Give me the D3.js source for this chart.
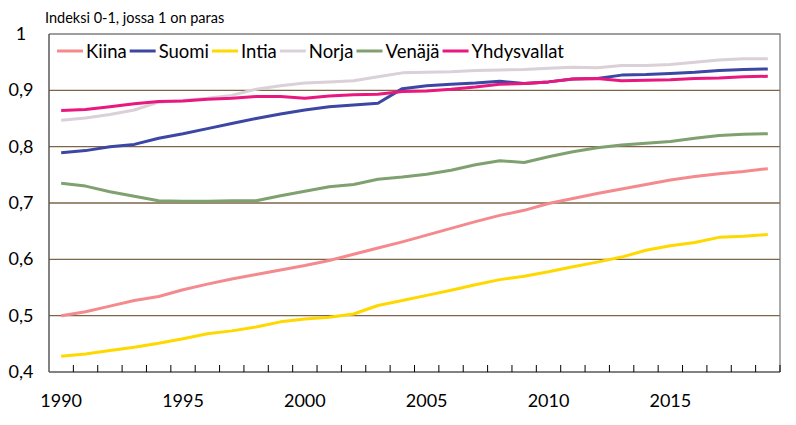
<!DOCTYPE html>
<html><head><meta charset="utf-8">
<script src="https://cdn.jsdelivr.net/npm/d3@7"></script>
<style>body{margin:0;background:#fff}svg{display:block}text{font-family:Lato,"Open Sans",sans-serif;fill:#000}</style>
</head><body><svg id="c" width="796" height="425"></svg>
<script>
const years = d3.range(1990, 2020);
const seriesNames = ["Kiina","Suomi","Intia","Norja","Venäjä","Yhdysvallat"];
const seriesColors = ["#F48A8E","#3B47A3","#FFD800","#DAD0D8","#7FA06F","#E9187E"];
const kiina = [0.500,0.507,0.517,0.527,0.534,0.546,0.556,0.565,0.573,0.581,0.589,0.598,0.609,0.620,0.631,0.643,0.655,0.667,0.678,0.687,0.699,0.708,0.717,0.725,0.733,0.741,0.747,0.752,0.756,0.761];
const suomi = [0.789,0.793,0.800,0.804,0.815,0.823,0.832,0.841,0.850,0.858,0.865,0.871,0.874,0.877,0.903,0.908,0.911,0.913,0.916,0.912,0.915,0.920,0.921,0.927,0.928,0.930,0.932,0.935,0.937,0.938];
const intia = [0.428,0.432,0.438,0.444,0.451,0.459,0.468,0.473,0.480,0.489,0.494,0.497,0.503,0.518,0.527,0.536,0.545,0.555,0.564,0.570,0.578,0.587,0.595,0.604,0.616,0.624,0.630,0.639,0.641,0.644];
const norja = [0.847,0.851,0.857,0.865,0.879,0.882,0.886,0.891,0.902,0.908,0.913,0.915,0.917,0.924,0.931,0.932,0.933,0.935,0.936,0.937,0.939,0.941,0.940,0.944,0.944,0.946,0.950,0.954,0.956,0.956];
const venaja = [0.735,0.730,0.720,0.712,0.704,0.703,0.703,0.704,0.704,0.713,0.721,0.729,0.733,0.742,0.746,0.751,0.758,0.768,0.775,0.772,0.782,0.791,0.798,0.803,0.806,0.809,0.815,0.820,0.822,0.823];
const yhdysvallat = [0.864,0.866,0.871,0.876,0.880,0.881,0.884,0.886,0.889,0.889,0.886,0.890,0.892,0.893,0.898,0.899,0.902,0.906,0.911,0.912,0.915,0.920,0.921,0.917,0.918,0.919,0.921,0.922,0.924,0.925];
const yTicks = [0.4,0.5,0.6,0.7,0.8,0.9,1];
const xLabelYears = [1990,1995,2000,2005,2010,2015];
const titleText = "Indeksi 0-1, jossa 1 on paras";

const seriesValues = [kiina,suomi,intia,norja,venaja,yhdysvallat];
const svg = d3.select("#c");
const L=49, R=780, T=34, B=372;
const x = d3.scaleBand().domain(years).range([L,R]);
const y = d3.scaleLinear().domain([0.4,1]).range([B,T]);
const cx = yr => x(yr)+x.bandwidth()/2;

// gridlines
svg.append("g").selectAll("line").data(yTicks.filter(v=>v>0.4&&v<1)).join("line")
  .attr("x1",L).attr("x2",R).attr("y1",d=>y(d)).attr("y2",d=>y(d))
  .attr("stroke","#7D6647").attr("stroke-width",1.3);

// frame top & right
svg.append("path").attr("d",`M${L},${T}H${R}V${B}`).attr("fill","none").attr("stroke","#7f7f7f").attr("stroke-width",1.3);

// axes
svg.append("line").attr("x1",L).attr("x2",R).attr("y1",B).attr("y2",B).attr("stroke","#595959").attr("stroke-width",1.5);
svg.append("line").attr("x1",L).attr("x2",L).attr("y1",T).attr("y2",B).attr("stroke","#595959").attr("stroke-width",1.5);
// boundary ticks (inward)
svg.append("g").selectAll("line").data(years.slice(1)).join("line")
  .attr("x1",d=>x(d)).attr("x2",d=>x(d)).attr("y1",B).attr("y2",B-7)
  .attr("stroke","#000").attr("stroke-width",1);
svg.append("line").attr("x1",R).attr("x2",R).attr("y1",B).attr("y2",B-7).attr("stroke","#000");

// x labels
svg.append("g").selectAll("text").data(xLabelYears).join("text")
  .attr("x",d=>cx(d)).attr("y",407).attr("text-anchor","middle").attr("font-size",18).text(d=>d);
// y labels
const fmt = v => v===1 ? "1" : d3.format(".1f")(v).replace(".",",");
svg.append("g").selectAll("text").data(yTicks).join("text")
  .attr("x",21).attr("y",d=>y(d)+6).attr("text-anchor","middle").attr("font-size",18).text(fmt);

// title
svg.append("text").attr("x",45).attr("y",23).attr("font-size",14.5).text(titleText);

// lines
const line = d3.line().x((d,i)=>cx(years[i])).y(d=>y(d));
const order = [3,4,0,2,1,5];
order.forEach(k=>{
  svg.append("path").datum(seriesValues[k]).attr("d",line).attr("fill","none")
    .attr("stroke",seriesColors[k]).attr("stroke-width",3).attr("stroke-linejoin","round");
});

// legend
let lx = 57; const ly = 51;
seriesNames.forEach((n,k)=>{
  svg.append("line").attr("x1",lx).attr("x2",lx+26).attr("y1",ly).attr("y2",ly)
    .attr("stroke",seriesColors[k]).attr("stroke-width",3);
  const t = svg.append("text").attr("x",lx+29).attr("y",ly+6.5).attr("font-size",18.5).text(n);
  lx += 29 + t.node().getComputedTextLength() + 3;
});
</script></body></html>
